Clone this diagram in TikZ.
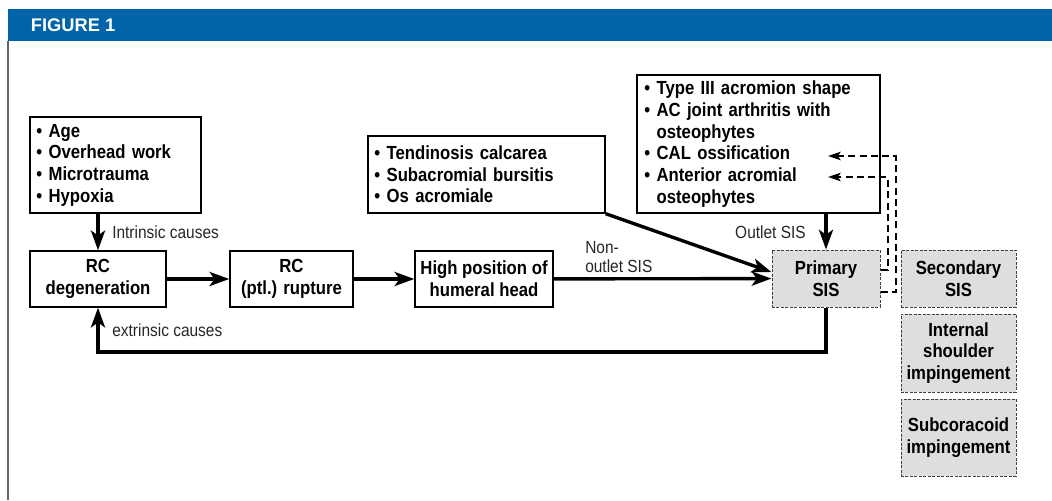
\documentclass[tikz,border=0pt]{standalone}
\usepackage{fontspec}
\setmainfont{Liberation Sans}[FakeStretch=0.88]
\newfontfamily\headfont{Liberation Sans}
\usetikzlibrary{arrows.meta}
\definecolor{figblue}{RGB}{0,100,168}
\definecolor{sisgray}{RGB}{222,222,222}
\newcommand{\bfont}{\bfseries\fontsize{13.5}{15.4}\selectfont}
\newcommand{\ind}{\phantom{\textbullet\ }}

\tikzset{
  box/.style={draw, line width=1pt, font=\bfont, align=center, inner sep=0pt},
  listbox/.style={box, align=left},
  sisbox/.style={box, fill=sisgray, draw=black!75, line width=0.7pt, dash pattern=on 2pt off 1.2pt},
  lbl/.style={font=\fontsize{12.5}{13.5}\selectfont, text=black!85, align=left, inner sep=0pt},
  conn/.style={line width=2.4pt, -{Stealth[length=14pt,width=10pt,inset=3.5pt]}},
  back/.style={line width=1.4pt, dash pattern=on 5pt off 3pt, -{Stealth[length=9pt,width=6pt,inset=2pt]}}
}

\begin{document}
\begin{tikzpicture}[x=0.025cm, y=-0.025cm]
            \useasboundingbox (0,0) rectangle (1052,500);
            % frame
            \fill[figblue] (8,9) rectangle (1052,41);
            \node[anchor=west, text=white, font=\headfont\bfseries\fontsize{13}{15}\selectfont] (title) at (26,25) {FIGURE 1};
            \draw[black!60, line width=1.3pt] (8,41) -- (8,500);

            % causes
            \node[listbox, minimum width=4.275cm, minimum height=2.4cm, text width=3.95cm] (risk) at (115.5,165)
                {\textbullet\ Age\\ \textbullet\ Overhead work\\ \textbullet\ Microtrauma\\ \textbullet\ Hypoxia};
            \node[listbox, minimum width=5.925cm, minimum height=1.925cm, text width=5.6cm] (tend) at (486.5,174.5)
                {\textbullet\ Tendinosis calcarea\\ \textbullet\ Subacromial bursitis\\ \textbullet\ Os acromiale};
            \node[listbox, minimum width=6.075cm, minimum height=3.45cm, text width=5.7cm] (outlet) at (758.5,144)
                {\textbullet\ Type III acromion shape\\ \textbullet\ AC joint arthritis with\\ \ind osteophytes\\
                 \textbullet\ CAL ossification\\ \textbullet\ Anterior acromial\\ \ind osteophytes};

            % chain
            \node[box, minimum width=3.4cm, minimum height=1.4cm] (rcdeg) at (98,279) {RC\\degeneration};
            \node[box, minimum width=3.075cm, minimum height=1.4cm] (rupture) at (291.5,279) {RC\\(ptl.) rupture};
            \node[box, minimum width=3.45cm, minimum height=1.4cm] (high) at (484,279) {High position of\\humeral head};

            % SIS
            \node[sisbox, minimum width=2.7cm, minimum height=1.425cm] (primary) at (826,278.5) {Primary\\SIS};
            \node[sisbox, minimum width=2.875cm, minimum height=1.425cm] (secondary) at (958.5,278.5) {Secondary\\SIS};
            \node[sisbox, minimum width=2.875cm, minimum height=1.95cm] (internal) at (958.5,353) {Internal\\shoulder\\impingement};
            \node[sisbox, minimum width=2.875cm, minimum height=1.925cm] (subcor) at (958.5,437.5) {Subcoracoid\\impingement};

            % connectors
            \draw[conn] (risk.south -| rcdeg.north) -- (rcdeg.north);
            \node[lbl, anchor=west] (intr) at (112,232) {Intrinsic causes};
            \draw[conn] (rcdeg) -- (rupture);
            \draw[conn] (rupture) -- (high);
            \draw[conn] (high) -- (primary);
            \node[lbl, anchor=west] (nonout) at (585,257) {Non-\\outlet SIS};
            \draw[conn] (tend.south east) -- ([yshift=0.16cm]primary.west);
            \draw[conn] (primary.north |- outlet.south) -- (primary.north);
            \node[lbl, anchor=east] (outl) at (806,232) {Outlet SIS};

            \coordinate (loop) at (0,352);
            \draw[conn] (primary.south) -- (primary.south |- loop) -| (rcdeg.south);
            \node[lbl, anchor=west] (extr) at (112,330) {extrinsic causes};

            \coordinate (calend) at (828,156);
            \coordinate (antend) at (828,177);
            \draw[back] ([yshift=0.21cm]primary.east) -- ++(7,0) |- (antend);
            \draw[back] ([yshift=-0.34cm]primary.east) -- ++(15,0) |- (calend);
\end{tikzpicture}
\end{document}
